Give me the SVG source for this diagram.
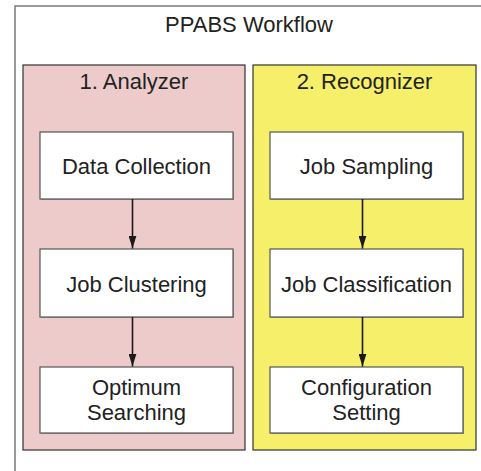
<svg xmlns="http://www.w3.org/2000/svg" width="481" height="471" viewBox="0 0 481 471">
  <defs>
    <marker id="arrow" markerWidth="13" markerHeight="8" refX="13" refY="4" orient="auto" markerUnits="userSpaceOnUse" viewBox="0 0 13 8">
      <path d="M0,0 L13,4 L0,8 Z" fill="#1a1a1a"/>
    </marker>
  </defs>
  <style>
    text { font-family: "Liberation Sans", Arial, sans-serif; font-size: 22px; fill: #222; text-anchor: middle; }
    .frame { fill: #fff; stroke: #7a7a7a; stroke-width: 1.5; }
    .panel { stroke: #333; stroke-width: 1.2; }
    .box { fill: #fff; stroke: #555; stroke-width: 1.2; }
    .shadow { fill: #999; }
    .conn { stroke: #1a1a1a; stroke-width: 1.6; fill: none; }
  </style>
  <rect width="481" height="471" fill="#fff"/>
  <g id="workflow">
    <rect class="frame" x="15" y="6" width="480" height="480"/>
    <text x="249" y="31.5">PPABS Workflow</text>
  </g>
  <g id="analyzer">
    <rect class="panel" x="23" y="65" width="222" height="385" fill="#edcbca"/>
    <text x="134" y="89">1. Analyzer</text>
  </g>
  <g id="recognizer">
    <rect class="panel" x="253" y="65" width="223" height="385" fill="#f5ef6a"/>
    <text x="364.5" y="89">2. Recognizer</text>
  </g>
  <g id="data-collection">
    <rect class="shadow" x="41" y="133" width="193" height="67"/>
    <rect class="box" x="40" y="132" width="193" height="67"/>
    <text x="136.5" y="173.5">Data Collection</text>
  </g>
  <g id="job-clustering">
    <rect class="shadow" x="41" y="250" width="193" height="68"/>
    <rect class="box" x="40" y="249" width="193" height="68"/>
    <text x="136.5" y="291.5">Job Clustering</text>
  </g>
  <g id="optimum-searching">
    <rect class="shadow" x="41" y="368" width="193" height="66"/>
    <rect class="box" x="40" y="367" width="193" height="66"/>
    <text x="136.5" y="394.5">Optimum</text>
    <text x="136.5" y="419.5">Searching</text>
  </g>
  <g id="job-sampling">
    <rect class="shadow" x="271" y="133" width="193" height="67"/>
    <rect class="box" x="270" y="132" width="193" height="67"/>
    <text x="366.5" y="173.5">Job Sampling</text>
  </g>
  <g id="job-classification">
    <rect class="shadow" x="271" y="250" width="193" height="68"/>
    <rect class="box" x="270" y="249" width="193" height="68"/>
    <text x="366.5" y="291.5">Job Classification</text>
  </g>
  <g id="configuration-setting">
    <rect class="shadow" x="271" y="368" width="193" height="66"/>
    <rect class="box" x="270" y="367" width="193" height="66"/>
    <text x="366.5" y="394.5">Configuration</text>
    <text x="366.5" y="419.5">Setting</text>
  </g>
  <g id="connectors">
    <line class="conn" x1="132.5" y1="199" x2="132.5" y2="248.5" marker-end="url(#arrow)"/>
    <line class="conn" x1="132.5" y1="317" x2="132.5" y2="366.5" marker-end="url(#arrow)"/>
    <line class="conn" x1="362.5" y1="199" x2="362.5" y2="248.5" marker-end="url(#arrow)"/>
    <line class="conn" x1="362.5" y1="317" x2="362.5" y2="366.5" marker-end="url(#arrow)"/>
  </g>
</svg>
